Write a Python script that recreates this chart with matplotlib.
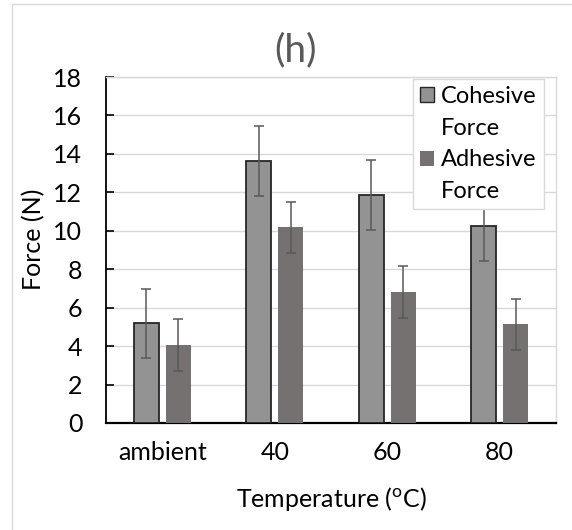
import matplotlib
matplotlib.use("Agg")
import matplotlib.pyplot as plt
import numpy as np
from matplotlib.patches import Patch, Rectangle

plt.rcParams['font.family'] = ['Lato', 'DejaVu Sans']

categories = ["ambient", "40", "60", "80"]
cohesive = [5.19, 13.63, 11.86, 10.25]
cohesive_err = [1.8, 1.8, 1.82, 1.82]
adhesive = [4.06, 10.18, 6.82, 5.13]
adhesive_err = [1.35, 1.34, 1.35, 1.34]
y_ticks = [0, 2, 4, 6, 8, 10, 12, 14, 16, 18]

fig = plt.figure(figsize=(5.72, 5.30), dpi=100)
ax = fig.add_axes([106 / 572, 107 / 530, 450 / 572, 346 / 530])

x = np.arange(len(categories))
w = 0.222
off = 0.142
ax.bar(x - off, cohesive, w, color="#939393", edgecolor="#262626", linewidth=1.3, zorder=3)
ax.bar(x + off, adhesive, w, color="#767171", linewidth=0, zorder=3)
ax.errorbar(x - off, cohesive, yerr=cohesive_err, fmt="none", ecolor="#595959",
            elinewidth=1.1, capsize=3.5, capthick=1.1, zorder=4)
ax.errorbar(x + off, adhesive, yerr=adhesive_err, fmt="none", ecolor="#595959",
            elinewidth=1.1, capsize=3.5, capthick=1.1, zorder=4)

ax.set_xlim(-0.5, len(categories) - 0.5)
ax.set_ylim(0, 18)
ax.set_yticks(y_ticks)
ax.set_xticks(x)
ax.set_xticklabels(categories)
ax.yaxis.grid(True, color="#d9d9d9", linewidth=1.0, zorder=0)
ax.set_axisbelow(True)

ax.tick_params(axis="y", direction="in", length=6, width=1.2, color="black",
               labelsize=18, pad=17, labelcolor="black")
ax.tick_params(axis="x", length=0, labelsize=18, pad=13, labelcolor="black")

ax.spines["left"].set_color("black")
ax.spines["left"].set_linewidth(1.3)
ax.spines["bottom"].set_color("black")
ax.spines["bottom"].set_linewidth(1.6)
ax.spines["right"].set_color("#d9d9d9")
ax.spines["right"].set_linewidth(1.0)
ax.spines["top"].set_color("#d9d9d9")
ax.spines["top"].set_linewidth(1.0)

ax.set_ylabel("Force (N)", fontsize=18, color="black")
ax.yaxis.set_label_coords(-0.135, 0.53)
ax.set_xlabel("Temperature ($\\mathregular{^{o}}$C)", fontsize=18, color="black")
ax.xaxis.set_label_coords(0.5, -0.178)

fig.text(295 / 572, 1 - 50 / 530, "(h)", fontsize=28, color="#595959",
         ha="center", va="center")

# legend: second line of each label carried by an invisible handle
handles = [Patch(facecolor="#939393", edgecolor="#262626", linewidth=1.0),
           Patch(facecolor="none", edgecolor="none"),
           Patch(facecolor="#767171", edgecolor="none"),
           Patch(facecolor="none", edgecolor="none")]
labels = ["Cohesive", "Force", "Adhesive", "Force"]
leg = ax.legend(handles, labels, loc="upper right", bbox_to_anchor=(544 / 572, 1 - 79 / 530),
                bbox_transform=fig.transFigure, fontsize=17, frameon=True, fancybox=False,
                edgecolor="#d9d9d9", framealpha=1, handlelength=0.6, handleheight=0.6,
                handletextpad=0.3, labelspacing=0.45, borderpad=0.3, borderaxespad=0)
leg.get_frame().set_linewidth(1.0)

# chart-area border
fig.patches.append(Rectangle((12 / 572, -0.1), 1.2, (1 - 4 / 530) + 0.1,
                             transform=fig.transFigure, fill=False,
                             edgecolor="#d9d9d9", linewidth=1.0))

fig.savefig("out.png", dpi=100)
